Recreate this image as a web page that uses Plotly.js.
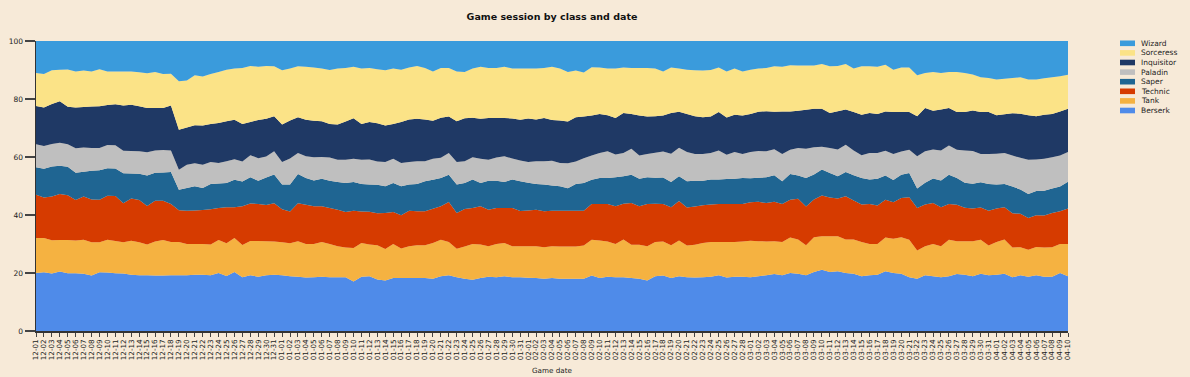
<!DOCTYPE html>
<html>
<head>
<meta charset="utf-8">
<script src="https://cdn.plot.ly/plotly-3.0.1.min.js"></script>
<style>
html,body{margin:0;padding:0;background:#F7EAD8;}
#chart{width:1190px;height:377px;}
</style>
</head>
<body>
<div id="chart"></div>
<script>
var dates = [
"12-01","12-02","12-03","12-04","12-05","12-06","12-07","12-08","12-09","12-10",
"12-11","12-12","12-13","12-14","12-15","12-16","12-17","12-18","12-19","12-20",
"12-21","12-22","12-23","12-24","12-25","12-26","12-27","12-28","12-29","12-30","12-31",
"01-01","01-02","01-03","01-04","01-05","01-06","01-07","01-08","01-09","01-10",
"01-11","01-12","01-13","01-14","01-15","01-16","01-17","01-18","01-19","01-20",
"01-21","01-22","01-23","01-24","01-25","01-26","01-27","01-28","01-29","01-30","01-31",
"02-01","02-02","02-03","02-04","02-05","02-06","02-07","02-08","02-09","02-10",
"02-11","02-12","02-13","02-14","02-15","02-16","02-17","02-18","02-19","02-20",
"02-21","02-22","02-23","02-24","02-25","02-26","02-27","02-28",
"03-01","03-02","03-03","03-04","03-05","03-06","03-07","03-08","03-09","03-10",
"03-11","03-12","03-13","03-14","03-15","03-16","03-17","03-18","03-19","03-20",
"03-21","03-22","03-23","03-24","03-25","03-26","03-27","03-28","03-29","03-30","03-31",
"04-01","04-02","04-03","04-04","04-05","04-06","04-07","04-08","04-09","04-10"
];

var berserk = [
20.0,20.2,19.8,20.5,19.9,19.9,19.7,19.2,20.3,20.2,
19.9,19.8,19.4,19.2,19.2,19.1,19.2,19.2,19.2,19.2,
19.4,19.4,19.2,20.0,19.0,20.3,18.5,19.2,18.7,19.2,
19.4,19.2,18.9,18.7,18.5,18.5,18.7,18.5,18.5,18.5,
17.1,18.7,18.9,17.7,17.4,18.3,18.3,18.3,18.3,18.3,
18.0,18.9,19.2,18.5,18.0,17.7,18.3,18.7,18.5,18.9,
18.5,18.5,18.3,18.3,18.0,18.3,18.0,18.0,18.0,18.0,
19.2,18.3,18.7,18.5,18.5,18.3,18.0,17.4,18.9,19.2,
18.3,18.9,18.5,18.5,18.5,18.7,19.2,18.5,18.7,18.7,
18.5,18.9,19.2,19.7,19.2,20.0,19.7,19.2,20.3,21.1,
20.3,20.6,20.0,19.7,18.9,19.2,19.4,20.6,20.0,19.7,
18.5,18.0,19.2,18.9,18.5,18.9,19.7,19.4,18.9,19.7,
19.2,19.4,19.7,18.5,19.2,18.7,19.2,18.7,18.7,20.0,
18.9];

var tank = [
12.0,11.8,11.5,10.9,11.5,11.3,11.7,11.4,10.3,11.3,
11.1,10.8,11.7,11.4,10.6,11.8,12.2,11.5,11.5,10.8,
10.6,10.6,10.6,11.4,11.3,11.7,11.1,11.8,12.3,11.7,
11.4,11.4,11.4,12.2,11.5,11.5,12.0,11.5,10.7,10.3,
11.5,11.6,10.9,11.8,10.9,11.7,10.1,10.9,11.3,11.3,
12.3,12.6,11.5,9.9,11.1,12.3,11.5,10.5,11.5,11.5,
10.7,10.7,10.9,10.9,10.8,10.9,11.1,11.1,11.1,11.5,
12.3,12.9,12.2,11.5,13.0,11.5,11.7,11.8,11.8,11.7,
11.3,12.3,11.0,11.3,11.8,12.0,11.5,12.2,12.0,12.2,
12.6,12.1,11.7,11.3,11.5,12.3,11.8,10.3,12.0,11.5,
12.3,12.1,11.5,11.8,11.8,10.8,10.6,11.7,11.8,12.6,
13.0,9.7,10.0,11.1,10.7,12.6,11.3,11.5,12.1,11.8,
10.3,11.3,11.8,10.3,9.7,9.3,9.7,10.1,10.1,10.0,
11.1];

var technic = [
14.9,14.0,15.1,15.9,15.5,14.0,14.9,14.8,14.7,15.1,
15.5,13.4,14.6,14.6,13.3,14.0,13.6,13.1,10.9,11.5,
11.5,11.7,12.2,11.0,12.4,10.6,13.4,13.0,12.8,12.5,
13.2,11.4,10.9,13.1,13.6,13.0,12.3,12.4,12.6,12.2,
12.9,10.9,11.3,11.1,12.4,11.0,11.5,12.3,11.7,11.7,
11.8,11.5,13.8,12.3,13.0,12.4,13.2,12.6,12.4,12.1,
13.2,12.1,12.3,12.6,12.4,12.3,12.3,12.3,12.3,12.0,
12.3,12.6,12.9,13.0,12.3,14.4,13.2,14.6,13.1,12.9,
13.1,13.6,13.1,13.2,13.0,12.9,13.1,13.1,13.1,12.9,
13.3,13.6,13.2,13.6,13.1,13.0,14.1,13.4,13.0,14.1,
13.4,13.0,14.9,13.4,12.9,13.8,13.3,13.0,12.6,13.6,
14.6,14.7,14.4,14.1,13.4,12.3,12.6,11.5,11.3,11.1,
12.0,11.5,11.1,11.8,11.5,10.9,11.0,11.0,11.8,11.3,
12.2];

var saper = [
9.5,9.9,10.3,9.7,9.8,9.4,8.6,9.9,10.1,9.5,
9.5,10.3,8.6,9.0,10.5,9.7,9.7,11.0,7.1,7.8,
8.4,7.6,8.7,8.5,8.4,9.5,8.5,9.0,8.0,9.5,
9.9,8.5,9.3,10.1,9.2,8.9,9.5,9.4,9.5,10.0,
9.9,9.4,9.4,9.8,9.2,10.0,10.0,9.0,9.4,10.3,
10.0,9.8,9.4,9.8,8.9,9.8,8.0,10.0,9.4,9.0,
9.8,10.3,9.5,8.9,9.2,8.7,8.4,7.8,9.2,9.5,
8.4,9.0,9.0,10.0,9.5,9.8,9.5,9.2,9.0,9.2,
8.7,8.6,9.0,8.9,8.5,8.6,8.4,8.7,8.7,9.0,
8.3,8.3,8.9,9.2,7.8,8.9,8.0,9.8,8.6,8.9,
8.4,7.7,8.4,8.7,9.2,8.4,9.2,8.4,7.7,8.0,
8.4,6.7,7.5,8.4,9.2,10.1,9.2,8.6,8.5,8.7,
9.2,8.3,8.0,9.2,8.4,8.3,8.3,8.5,8.4,8.6,
9.2];

var paladin = [
7.9,7.8,7.8,8.0,7.8,8.4,8.3,7.9,7.7,8.0,
8.0,7.8,7.8,7.8,8.0,7.6,7.8,7.4,6.9,8.0,
7.9,8.0,7.6,7.0,7.5,7.1,6.9,7.6,7.8,7.2,
8.0,7.8,9.0,7.2,7.5,8.0,7.5,8.0,7.7,8.0,
8.0,8.4,8.6,8.0,8.4,8.4,8.0,7.8,7.8,6.9,
7.2,6.9,7.5,7.8,7.5,7.7,8.4,7.2,8.0,8.9,
7.2,7.1,7.2,7.8,8.0,8.5,8.0,8.6,7.8,8.6,
8.4,8.6,9.2,7.8,8.0,9.0,8.0,8.0,8.6,9.0,
9.7,9.8,10.1,9.2,9.2,9.2,10.0,8.3,9.2,8.3,
9.0,9.2,9.0,8.9,9.4,8.4,9.4,10.1,9.4,7.9,
8.6,9.2,9.4,8.5,7.8,9.2,8.9,8.5,8.9,8.0,
8.0,11.1,10.9,10.0,10.3,10.1,9.8,11.1,11.3,9.7,
10.3,10.6,10.7,10.7,10.9,11.8,10.9,11.0,10.8,10.7,
10.3];

var inquisitor = [
13.2,13.3,13.8,14.3,12.9,14.1,14.0,14.3,14.4,13.8,
14.1,15.6,15.9,15.5,15.3,14.7,14.5,15.6,13.8,12.9,
13.1,13.6,13.1,13.8,13.8,13.6,12.9,11.5,13.2,13.0,
12.1,12.9,13.1,12.3,12.6,12.6,12.3,11.5,12.1,13.2,
14.0,12.3,13.0,13.2,12.6,12.0,14.1,14.6,14.7,14.4,
13.1,13.8,12.6,14.0,14.9,13.6,13.8,14.4,13.6,13.2,
13.8,14.1,14.9,14.4,14.9,14.1,14.6,14.4,15.2,14.4,
13.8,13.4,12.4,12.6,13.8,12.0,13.8,13.0,12.6,12.4,
14.1,12.4,13.1,13.0,12.6,12.6,13.3,12.9,12.9,13.3,
13.1,13.6,13.8,13.0,14.7,13.2,12.9,13.4,13.3,13.1,
12.1,13.2,12.1,13.3,14.0,13.8,13.4,13.6,14.5,13.6,
13.0,13.8,14.9,13.4,14.1,12.9,13.0,13.3,14.0,14.5,
14.5,13.3,13.4,14.6,15.2,15.3,14.9,15.2,14.9,15.2,
14.9];

var sorceress = [
11.4,11.5,11.6,10.9,12.9,12.4,12.5,12.1,12.8,11.6,
11.3,11.7,11.5,11.7,12.0,12.4,11.7,10.9,16.7,16.2,
17.2,16.9,17.2,17.6,17.8,17.6,19.3,19.3,18.3,18.2,
17.2,18.7,17.9,17.6,18.3,18.4,18.2,18.6,19.3,18.4,
17.7,19.1,18.6,18.6,19.0,19.1,18.0,18.0,18.2,17.8,
17.0,17.2,16.7,17.2,15.9,17.0,17.9,17.2,17.2,17.7,
17.2,17.6,17.2,17.6,17.2,18.3,17.9,17.0,16.1,15.1,
16.6,16.1,16.1,17.0,15.7,15.9,16.3,16.7,16.4,15.2,
15.7,14.9,15.3,15.9,16.1,16.0,15.4,15.9,15.9,15.2,
15.3,14.9,14.9,15.7,15.4,15.9,15.6,15.3,14.9,15.4,
16.1,15.6,15.7,14.9,16.7,16.1,16.3,16.1,14.6,15.4,
15.4,14.1,12.1,13.3,12.6,12.4,13.8,13.4,12.4,12.0,
11.7,12.3,12.2,12.1,12.6,12.3,12.6,12.6,12.6,12.1,
11.7];

var wizard = [
11.0,11.4,10.1,9.9,9.8,10.5,10.2,10.5,9.7,10.5,
10.5,10.5,10.5,10.8,11.1,10.7,11.4,11.3,13.9,13.6,
11.8,12.2,11.4,10.7,9.9,9.5,9.3,8.6,8.9,8.6,
8.7,10.1,9.5,8.7,8.9,9.1,9.5,10.0,9.5,9.3,
8.9,9.5,9.3,9.7,10.1,9.5,9.9,9.1,8.6,9.3,
10.5,9.3,9.3,10.5,10.7,9.5,8.9,9.3,9.3,8.9,
9.5,9.5,9.5,9.5,9.3,8.9,9.5,10.7,10.2,10.9,
9.1,9.1,9.5,9.5,9.1,9.3,9.3,9.3,9.5,10.5,
9.1,9.5,9.9,10.1,10.2,10.0,9.1,10.5,9.5,10.5,
9.9,9.5,9.3,8.7,8.9,8.4,8.4,8.4,8.4,7.9,
8.7,8.6,7.9,9.5,8.7,8.7,8.9,8.2,9.9,9.1,
9.1,11.8,11.0,10.7,11.0,10.7,10.7,11.0,11.6,12.5,
12.8,13.3,13.0,12.8,12.5,13.3,13.3,12.8,12.5,12.2,
11.6];

var seriesNames  = ["Berserk","Tank","Technic","Saper","Paladin","Inquisitor","Sorceress","Wizard"];
var seriesValues = [berserk, tank, technic, saper, paladin, inquisitor, sorceress, wizard];
var seriesColors = ["#4F8BE9","#F5B241","#D63B00","#1F6592","#BFBFBF","#1F3965","#FBE387","#3A9BDC"];

var traces = seriesNames.map(function(name, k){
  return {
    type: "scatter",
    x: dates,
    y: seriesValues[k],
    name: name,
    stackgroup: "one",
    groupnorm: k === 0 ? "percent" : undefined,
    mode: "none",
    fillcolor: seriesColors[k],
    line: {width: 0},
    hoveron: "points"
  };
});

var FONT = "DejaVu Sans, Verdana, sans-serif";
var plotL = 36, plotR = 1068, plotT = 41, plotB = 331;
var pw = plotR - plotL, ph = plotB - plotT;

// legend (top-to-bottom: Wizard ... Berserk), drawn in pixel-derived paper coords
var shapes = [], annotations = [];
var legendOrder = seriesNames.slice().reverse();
var legendColors = seriesColors.slice().reverse();
for (var r = 0; r < legendOrder.length; r++) {
  var cy = 43.3 + 9.6 * r;
  shapes.push({
    type: "rect", xref: "paper", yref: "paper",
    x0: (1120 - plotL) / pw, x1: (1135 - plotL) / pw,
    y0: (plotB - (cy + 2.8)) / ph, y1: (plotB - (cy - 2.8)) / ph,
    fillcolor: legendColors[r], line: {width: 0}
  });
  annotations.push({
    xref: "paper", yref: "paper",
    x: (1139 - plotL) / pw, y: (plotB - cy) / ph,
    xanchor: "left", yanchor: "middle",
    text: legendOrder[r], showarrow: false,
    font: {family: FONT, size: 7.5, color: "#222"}
  });
}

var layout = {
  width: 1190, height: 377,
  paper_bgcolor: "#F7EAD8",
  plot_bgcolor: "#F7EAD8",
  margin: {l: plotL, r: 1190 - plotR, t: plotT, b: 377 - plotB, pad: 0},
  showlegend: false,
  title: {
    text: "<b>Game session by class and date</b>",
    font: {family: FONT, size: 9.5, color: "#111"},
    xref: "paper", x: 0.5, xanchor: "center",
    yref: "container", y: 1 - 17 / 377, yanchor: "middle"
  },
  xaxis: {
    type: "category",
    range: [0, dates.length - 1],
    tickmode: "linear", tick0: 0, dtick: 1,
    tickangle: -90,
    ticks: "outside", ticklen: 4, tickwidth: 1, tickcolor: "#444",
    tickfont: {family: FONT, size: 7.2, color: "#222"},
    showline: true, linecolor: "#333", linewidth: 1.5,
    showgrid: false, zeroline: false,
    title: {text: "Game date", font: {family: FONT, size: 7.2, color: "#222"}, standoff: 8}
  },
  yaxis: {
    range: [0, 100],
    tickmode: "array", tickvals: [0, 20, 40, 60, 80, 100],
    ticks: "outside", ticklen: 10, tickwidth: 1.5, tickcolor: "#444",
    tickfont: {family: FONT, size: 7.5, color: "#222"},
    showline: true, linecolor: "#333", linewidth: 1.5,
    showgrid: false, zeroline: false
  },
  shapes: shapes,
  annotations: annotations
};

Plotly.newPlot("chart", traces, layout, {displayModeBar: false, staticPlot: true});
</script>
</body>
</html>
